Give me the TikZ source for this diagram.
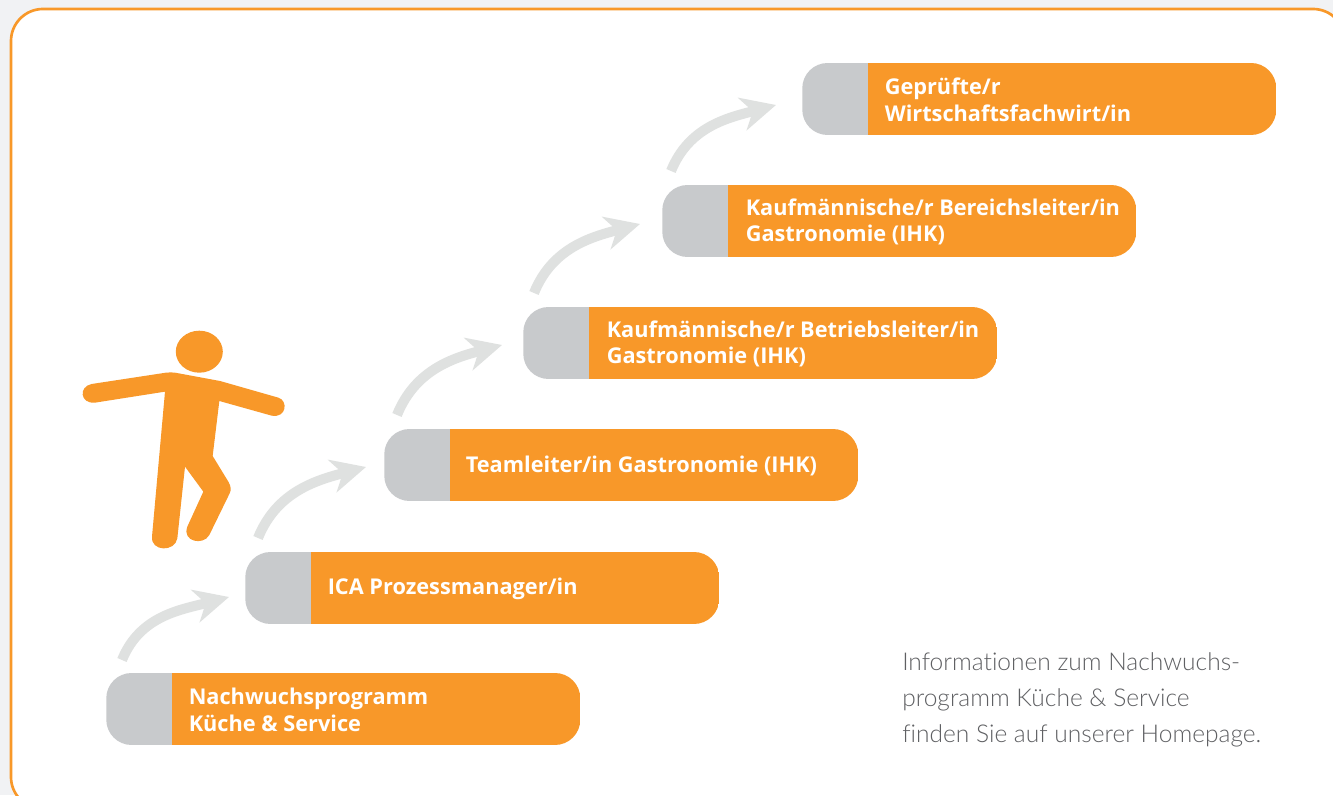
\documentclass[tikz,border=0pt]{standalone}
\usepackage{fontspec}
\setmainfont{Open Sans}
\newfontfamily\infofont[Ligatures=NoCommon]{Lato Light}
\usetikzlibrary{arrows.meta}
\definecolor{stepOrange}{HTML}{F89829}
\definecolor{stepGray}{HTML}{C8CACC}
\definecolor{arrowGray}{HTML}{DFE1E0}
\definecolor{pageGray}{HTML}{F1F2F4}
\definecolor{infoGray}{HTML}{5F6063}
\tikzset{
  stepbar/.style={anchor=west,minimum width=355.5pt,minimum height=54pt,inner sep=0pt,
    rounded corners=19pt,
    path picture={
      \fill[stepGray,sharp corners] (path picture bounding box.north west) rectangle
        ([xshift=49.6pt]path picture bounding box.south west);
      \fill[stepOrange,sharp corners] ([xshift=49.6pt]path picture bounding box.north west) rectangle
        (path picture bounding box.south east);}},
  steptext/.style={anchor=west,inner sep=0pt,text=white,align=left,font=\bfseries\fontsize{16.3}{20}\selectfont},
  steparrow/.style={draw=arrowGray,line width=7.5pt,-{Stealth[length=26pt,width=25pt,inset=8pt]}},
}
\begin{document}
\begin{tikzpicture}[x=0.75pt,y=0.75pt]
  \useasboundingbox (0,0) rectangle (1333,795);
  \fill[pageGray] (0,0) rectangle (1333,795);
  \draw[stepOrange,line width=2pt,fill=white,rounded corners=24pt] (11,-14) rectangle (1345,786);

  \node[stepbar] (bar1) at (106,86) {};
  \node[stepbar] (bar2) at (245,207) {};
  \node[stepbar] (bar3) at (384,330) {};
  \node[stepbar] (bar4) at (523,452) {};
  \node[stepbar] (bar5) at (662,574) {};
  \node[stepbar] (bar6) at (802,696) {};

  \node[steptext] (text1) at (188.5,85) {Nachwuchsprogramm\\Küche \& Service};
  \node[steptext] (text2) at (327.5,206) {ICA Prozessmanager/in};
  \node[steptext] (text3) at (465.5,329) {Teamleiter/in Gastronomie (IHK)};
  \node[steptext] (text4) at (606.5,451) {Kaufmännische/r Betriebsleiter/in\\Gastronomie (IHK)};
  \node[steptext] (text5) at (745.5,573) {Kaufmännische/r Bereichsleiter/in\\Gastronomie (IHK)};
  \node[steptext] (text6) at (884.5,695) {Geprüfte/r\\Wirtschaftsfachwirt/in};

  \coordinate (from1) at (122,135);
  \coordinate (to1) at (229,198);
  \coordinate (from2) at (258,257);
  \coordinate (to2) at (366,328);
  \coordinate (from3) at (397,380);
  \coordinate (to3) at (502,450);
  \coordinate (from4) at (534,502);
  \coordinate (to4) at (640,571);
  \coordinate (from5) at (671,624);
  \coordinate (to5) at (776,690);
  \draw[steparrow] (from1) to[out=68,in=195] (to1);
  \draw[steparrow] (from2) to[out=68,in=195] (to2);
  \draw[steparrow] (from3) to[out=68,in=195] (to3);
  \draw[steparrow] (from4) to[out=68,in=195] (to4);
  \draw[steparrow] (from5) to[out=68,in=195] (to5);

  % figure
  \fill[stepOrange] (199.3,443.3) ellipse (23.5 and 21);
  \begin{scope}[shift={(60,485)},x=0.25pt,y=-0.25pt]
    \fill[stepOrange] (95,222) -- (305,190) .. controls (320,187) and (335,187) .. (345,188)
      -- (480,213) -- (655,263) .. controls (685,272) and (680,325) .. (635,317)
      -- (478,273) -- (458,438) -- (505,515) .. controls (513,528) and (514,540) .. (509,550)
      -- (448,675) .. controls (430,708) and (365,695) .. (382,650) -- (430,545) -- (375,470)
      -- (352,685) .. controls (345,727) and (272,725) .. (276,680) -- (315,245) -- (105,278)
      .. controls (60,282) and (55,230) .. (95,222) -- cycle;
  \end{scope}

  \node[anchor=north west,inner sep=0pt,text=infoGray,align=left,
    font=\infofont\fontsize{18.4}{27}\selectfont] (info) at (902,143)
    {Informationen zum Nachwuchs-\\programm Küche \& Service\\finden Sie auf unserer Homepage.};
\end{tikzpicture}
\end{document}
